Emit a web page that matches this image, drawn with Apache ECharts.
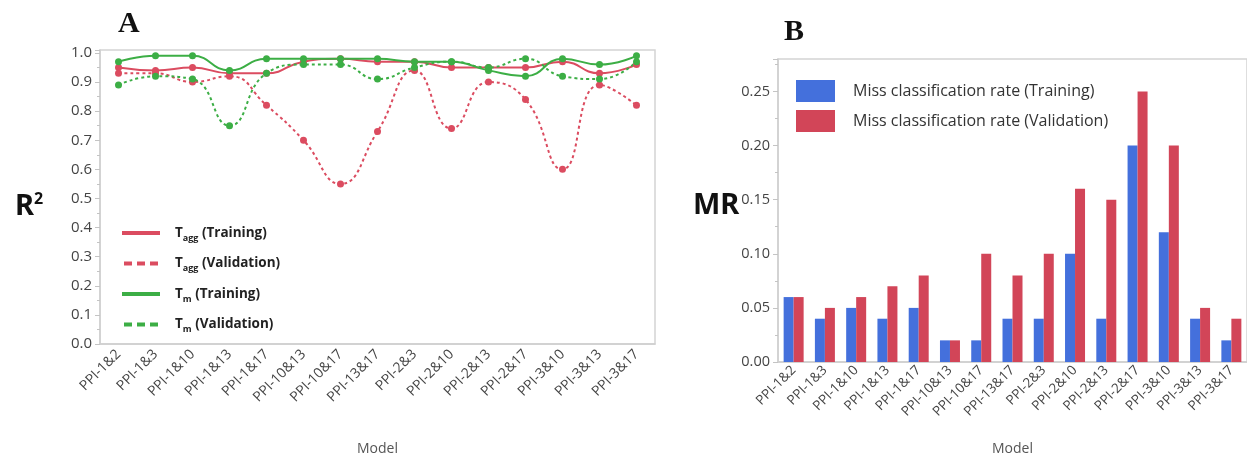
<!DOCTYPE html>
<html>
<head>
<meta charset="utf-8">
<script src="https://cdn.jsdelivr.net/npm/echarts@6/dist/echarts.min.js"></script>
<style>
  html, body { margin: 0; padding: 0; background: #fff; }
  #chart { width: 1247px; height: 461px; }
</style>
</head>
<body>
<div id="chart"></div>
<script>
// Models (shared by both panels)
const models = ['PPI-1&2', 'PPI-1&3', 'PPI-1&10', 'PPI-1&13', 'PPI-1&17', 'PPI-10&13', 'PPI-10&17',
  'PPI-13&17', 'PPI-2&3', 'PPI-2&10', 'PPI-2&13', 'PPI-2&17', 'PPI-3&10', 'PPI-3&13', 'PPI-3&17'];

// Panel A: R2
const taggTraining   = [0.95, 0.94, 0.95, 0.93, 0.93, 0.97, 0.98, 0.97, 0.97, 0.95, 0.95, 0.95, 0.97, 0.93, 0.96];
const taggValidation = [0.93, 0.93, 0.90, 0.92, 0.82, 0.70, 0.55, 0.73, 0.94, 0.74, 0.90, 0.84, 0.60, 0.89, 0.82];
const tmTraining     = [0.97, 0.99, 0.99, 0.94, 0.98, 0.98, 0.98, 0.98, 0.97, 0.97, 0.94, 0.92, 0.98, 0.96, 0.99];
const tmValidation   = [0.89, 0.92, 0.91, 0.75, 0.93, 0.96, 0.96, 0.91, 0.95, 0.97, 0.95, 0.98, 0.92, 0.91, 0.97];

// Panel B: miss classification rate
const mrTraining   = [0.06, 0.04, 0.05, 0.04, 0.05, 0.02, 0.02, 0.04, 0.04, 0.10, 0.04, 0.20, 0.12, 0.04, 0.02];
const mrValidation = [0.06, 0.05, 0.06, 0.07, 0.08, 0.02, 0.10, 0.08, 0.10, 0.16, 0.15, 0.25, 0.20, 0.05, 0.04];

const red = '#db4c60';
const green = '#3cae45';
const blue = '#4470dc';
const barRed = '#d24558';
const font = 'Open Sans';

const chart = echarts.init(document.getElementById('chart'));

const dashIcon = 'path://M0 0h8v4H0z M13 0h8v4h-8z M26 0h8v4h-8z';

const legendNames = {
  'Tagg (Training)': '{b|T}{s|agg}{b| (Training)}',
  'Tagg (Validation)': '{b|T}{s|agg}{b| (Validation)}',
  'Tm (Training)': '{b|T}{s|m}{b| (Training)}',
  'Tm (Validation)': '{b|T}{s|m}{b| (Validation)}'
};

const lineSeries = (name, data, color, dashed) => ({
  name: name,
  type: 'line',
  xAxisIndex: 0,
  yAxisIndex: 0,
  data: data,
  smooth: true,
  symbol: 'circle',
  symbolSize: 7,
  itemStyle: { color: color },
  lineStyle: { color: color, width: 2, type: dashed ? [3, 3] : 'solid' }
});

const axisLabelStyle = { color: '#444', fontFamily: font };

chart.setOption({
  animation: false,
  title: [
    { text: 'A', left: 113, top: 4, textStyle: { fontFamily: 'Liberation Serif', fontWeight: 'bold', fontSize: 30, color: '#111' } },
    { text: 'B', left: 779, top: 12, textStyle: { fontFamily: 'Liberation Serif', fontWeight: 'bold', fontSize: 30, color: '#111' } },
    {
      text: '{r|R}{s|2}', left: 10, top: 186,
      textStyle: { rich: {
        r: { fontFamily: 'Noto Sans', fontWeight: 'bold', fontSize: 29, color: '#111', lineHeight: 32 },
        s: { fontFamily: 'Noto Sans', fontWeight: 'bold', fontSize: 16, color: '#111', verticalAlign: 'top', lineHeight: 15 }
      } }
    },
    { text: 'MR', left: 688, top: 186, textStyle: { fontFamily: 'Noto Sans', fontWeight: 'bold', fontSize: 29, color: '#111' } }
  ],
  grid: [
    { left: 100, top: 50, width: 555, height: 304, show: true, borderColor: '#d4d4d4', borderWidth: 1.5 },
    { left: 778, top: 59, width: 470, height: 308, show: true, borderColor: '#d4d4d4', borderWidth: 1.5 }
  ],
  legend: [
    {
      data: [
        { name: 'Tagg (Training)', icon: 'rect' },
        { name: 'Tagg (Validation)', icon: dashIcon },
        { name: 'Tm (Training)', icon: 'rect' },
        { name: 'Tm (Validation)', icon: dashIcon }
      ],
      orient: 'vertical',
      left: 117,
      top: 221,
      itemWidth: 38,
      itemHeight: 4,
      itemGap: 14,
      itemStyle: { borderWidth: 0 },
      formatter: (name) => legendNames[name],
      textStyle: {
        padding: [0, 0, 0, 10],
        rich: {
          b: { fontFamily: font, fontWeight: 'bold', fontSize: 13.5, color: '#222', lineHeight: 19 },
          s: { fontFamily: font, fontWeight: 'bold', fontSize: 9, color: '#222', lineHeight: 9, verticalAlign: 'bottom' }
        }
      }
    },
    {
      data: ['Miss classification rate (Training)', 'Miss classification rate (Validation)'],
      orient: 'vertical',
      left: 791,
      top: 75,
      icon: 'rect',
      itemWidth: 39,
      itemHeight: 22,
      itemGap: 8,
      textStyle: { fontFamily: font, fontSize: 16, color: '#333', padding: [0, 0, 0, 13] }
    }
  ],
  xAxis: [
    {
      type: 'category',
      gridIndex: 0,
      data: models,
      axisLine: { lineStyle: { color: '#cfcfcf', width: 1.5 } },
      axisTick: { show: false },
      axisLabel: Object.assign({ rotate: 45, fontSize: 14, interval: 0, margin: 8 }, axisLabelStyle),
      name: 'Model',
      nameLocation: 'middle',
      nameGap: 98,
      nameTextStyle: { fontFamily: font, fontSize: 14, color: '#555' }
    },
    {
      type: 'category',
      gridIndex: 1,
      data: models,
      axisLine: { lineStyle: { color: '#cfcfcf', width: 1.5 } },
      axisTick: { show: false },
      axisLabel: Object.assign({ rotate: 45, fontSize: 13.5, interval: 0, margin: 6 }, axisLabelStyle),
      name: 'Model',
      nameLocation: 'middle',
      nameGap: 80,
      nameTextStyle: { fontFamily: font, fontSize: 14, color: '#555' }
    }
  ],
  yAxis: [
    {
      type: 'value',
      gridIndex: 0,
      min: 0,
      max: 1.01,
      interval: 0.1,
      axisLine: { show: true, lineStyle: { color: '#cfcfcf', width: 1.5 } },
      axisTick: { show: true, length: 5, lineStyle: { color: '#c4c4c4' } },
      minorTick: { show: true, splitNumber: 2, length: 3, lineStyle: { color: '#c4c4c4' } },
      splitLine: { show: false },
      axisLabel: Object.assign({ fontSize: 15, margin: 8, showMaxLabel: false, formatter: (v) => v.toFixed(1) }, axisLabelStyle)
    },
    {
      type: 'value',
      gridIndex: 1,
      min: 0,
      max: 0.28,
      interval: 0.05,
      axisLine: { show: true, lineStyle: { color: '#cfcfcf', width: 1.5 } },
      axisTick: { show: true, length: 5, lineStyle: { color: '#c4c4c4' } },
      minorTick: { show: true, splitNumber: 2, length: 3, lineStyle: { color: '#c4c4c4' } },
      splitLine: { show: false },
      axisLabel: Object.assign({ fontSize: 14.5, margin: 8, showMaxLabel: false, formatter: (v) => v.toFixed(2) }, axisLabelStyle)
    }
  ],
  series: [
    lineSeries('Tagg (Training)', taggTraining, red, false),
    lineSeries('Tagg (Validation)', taggValidation, red, true),
    lineSeries('Tm (Training)', tmTraining, green, false),
    lineSeries('Tm (Validation)', tmValidation, green, true),
    {
      name: 'Miss classification rate (Training)',
      type: 'bar',
      xAxisIndex: 1,
      yAxisIndex: 1,
      data: mrTraining,
      barWidth: 10,
      barGap: '0%',
      itemStyle: { color: blue }
    },
    {
      name: 'Miss classification rate (Validation)',
      type: 'bar',
      xAxisIndex: 1,
      yAxisIndex: 1,
      data: mrValidation,
      barWidth: 10,
      barGap: '0%',
      itemStyle: { color: barRed }
    }
  ]
});
</script>
</body>
</html>
